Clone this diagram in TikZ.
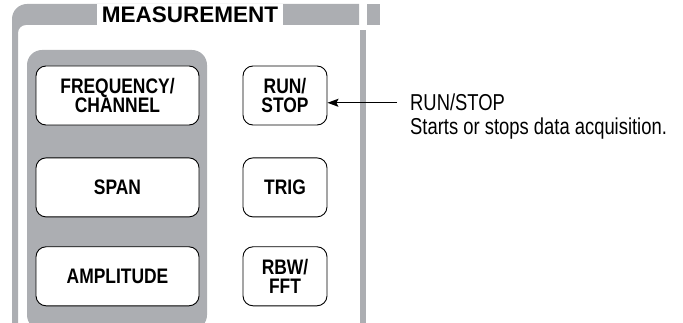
\documentclass[tikz,border=0pt]{standalone}
\usepackage{fontspec}
\setmainfont{Liberation Sans}
\newfontfamily\keyfont{Liberation Sans}[FakeStretch=0.83]
\newfontfamily\notefont{Liberation Sans}[FakeStretch=0.8]
\usetikzlibrary{arrows.meta, positioning}
\definecolor{panelgray}{RGB}{172,174,178}
\tikzset{
    >=Stealth,
    x=1pt, y=-1pt,
    meas_key/.style={
        rectangle,
        rounded corners=10pt,
        draw=black,
        fill=white,
        line width=0.9pt,
        minimum height=59pt,
        inner sep=0pt,
        align=center,
        font=\keyfont\bfseries\fontsize{21}{19}\selectfont
    },
    meas_wide/.style={
        meas_key,
        minimum width=163pt
    },
    meas_narrow/.style={
        meas_key,
        minimum width=84pt
    },
    meas_title/.style={
        fill=white,
        inner sep=0pt,
        minimum width=186pt,
        minimum height=21pt,
        font=\bfseries\fontsize{22.5}{24}\selectfont
    },
    meas_note/.style={
        inner sep=0pt,
        anchor=base west,
        font=\notefont\fontsize{23}{24}\selectfont
    },
    meas_arrow/.style={
        -{Stealth[length=11pt, width=8pt, inset=2pt]},
        line width=1.1pt,
        shorten <=13pt
    }
}

\begin{document}
\begin{tikzpicture}
\useasboundingbox (0,0) rectangle (683,323);

% --- Frame ---
\fill[panelgray] (12,330) [rounded corners=15pt] -- (12,4) [sharp corners] -- (359,4) -- (359,25)
    [rounded corners=8pt] -- (18,25) [sharp corners] -- (18,330) -- cycle;
\fill[panelgray] (367,4) rectangle (380,25);
\fill[panelgray] (360,30) rectangle (366,323);
\node[meas_title] (Title) at (190,14.5) {MEASUREMENT};

% --- Key panel ---
\fill[panelgray, rounded corners=15pt] (27,330) -- (27,50) -- (207,50) -- (207,330) -- cycle;

% --- Keys ---
\node[meas_wide] (Freq) at (117.5,95.5) {FREQUENCY/\\CHANNEL};
\node[meas_wide, below=32pt of Freq] (Span) {SPAN};
\node[meas_wide, below=29pt of Span] (Ampl) {AMPLITUDE};
\node[meas_narrow] (RunStop) at (285,95.5) {RUN/\\STOP};
\node[meas_narrow, below=32pt of RunStop] (Trig) {TRIG};
\node[meas_narrow, below=29pt of Trig] (RbwFft) {RBW/\\FFT};

% --- Callout ---
\node[meas_note] (RunLabel) at (410,111) {RUN/STOP};
\node[meas_note] (RunDesc) at (410,135) {Starts or stops data acquisition.};
\draw[meas_arrow] (RunLabel.west) -- (RunStop.east |- RunLabel.west);

\end{tikzpicture}
\end{document}
